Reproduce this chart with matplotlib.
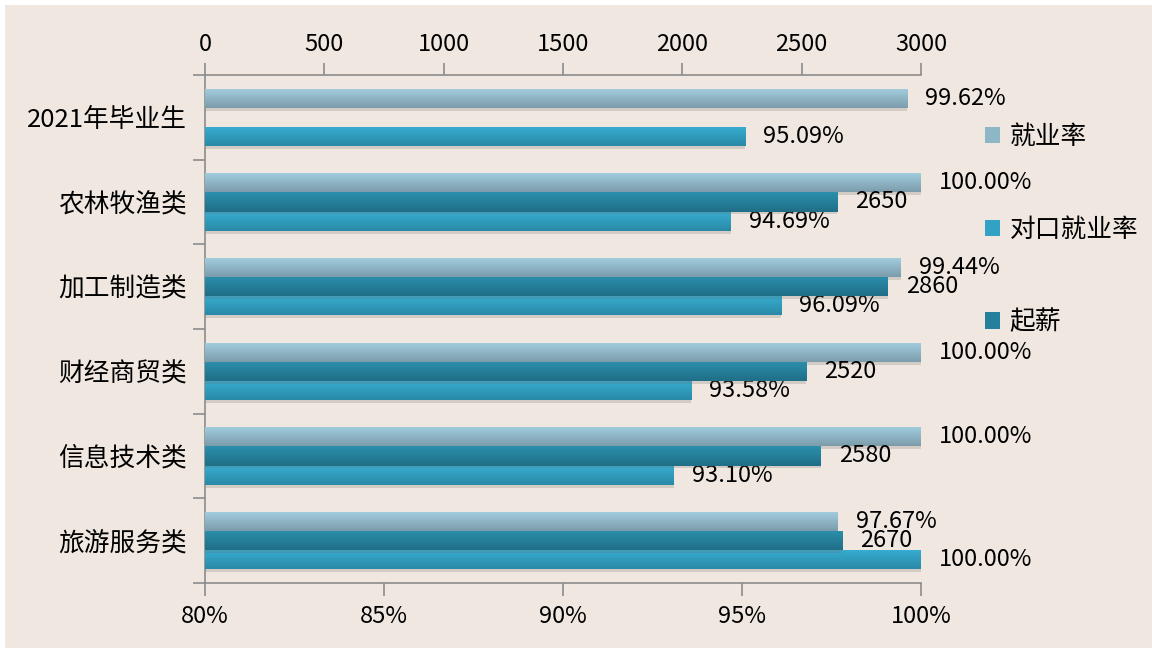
import matplotlib
matplotlib.use("Agg")

import numpy as np
from matplotlib import pyplot as plt
from matplotlib.colors import LinearSegmentedColormap
from matplotlib.patches import Patch, Rectangle

plt.rcParams["font.family"] = ["Noto Sans CJK SC", "DejaVu Sans"]

categories = ["2021年毕业生", "农林牧渔类", "加工制造类", "财经商贸类", "信息技术类", "旅游服务类"]
employment_rate = [99.62, 100.00, 99.44, 100.00, 100.00, 97.67]
matched_rate    = [95.09, 94.69, 96.09, 93.58, 93.10, 100.00]
start_salary    = [np.nan, 2650, 2860, 2520, 2580, 2670]

pct_ticks    = [80, 85, 90, 95, 100]
salary_ticks = [0, 500, 1000, 1500, 2000, 2500, 3000]

SERIES_STYLE = {
    "就业率":     {"top": "#A3CFE0", "bottom": "#7C9CAB", "legend": "#8DB6C7"},
    "对口就业率": {"top": "#37AED2", "bottom": "#2A89A6", "legend": "#31A2C6"},
    "起薪":       {"top": "#2B90AD", "bottom": "#206E87", "legend": "#267F9B"},
}

BG = "#F0E8E0"
AXIS_GRAY = "#8C8C8C"
FS_NUM = 17
FS_CJK = 18.5
BAR_H = 0.225
SHADOW = 0.035


def gradient_barh(ax, y, widths, left, style, zorder=3):
    bars = ax.barh(y, widths, left=left, height=BAR_H, color=style["bottom"],
                   linewidth=0, zorder=zorder)
    # soft shadow below each bar
    ax.barh(np.asarray(y) + SHADOW, widths, left=left, height=BAR_H, color="#6E6A66",
            alpha=0.22, linewidth=0, zorder=zorder - 1)
    cmap = LinearSegmentedColormap.from_list("g", [style["top"], style["bottom"]])
    grad = np.linspace(0, 1, 64).reshape(-1, 1)
    for bar in bars:
        x0, y0 = bar.get_x(), bar.get_y()
        w, h = bar.get_width(), bar.get_height()
        if not np.isfinite(w):
            continue
        im = ax.imshow(grad, cmap=cmap, aspect="auto", extent=[x0, x0 + w, y0 + h, y0],
                       zorder=zorder + 0.1, interpolation="bilinear")
        im.set_clip_path(bar)
    return bars


fig = plt.figure(figsize=(11.52, 6.48), dpi=100, facecolor="white")
fig.patches.append(Rectangle((5 / 1152, 0), 1, 1 - 5 / 648, transform=fig.transFigure,
                             facecolor=BG, edgecolor="none", zorder=-10))

ax = fig.add_axes([205 / 1152, 1 - 583 / 648, (921 - 205) / 1152, (583 - 75) / 648])
ax.set_facecolor("none")
ax2 = ax.twiny()
ax2.set_facecolor("none")

ypos = np.arange(len(categories))

pct_base = pct_ticks[0]
gradient_barh(ax, ypos - BAR_H, np.array(employment_rate) - pct_base, pct_base, SERIES_STYLE["就业率"])
gradient_barh(ax, ypos + BAR_H, np.array(matched_rate) - pct_base, pct_base, SERIES_STYLE["对口就业率"])
gradient_barh(ax2, ypos, np.array(start_salary), 0, SERIES_STYLE["起薪"], zorder=5)

for y, v in zip(ypos, employment_rate):
    ax.annotate(f"{v:.2f}%", (v, y - BAR_H), xytext=(13, 0), textcoords="offset points",
                ha="left", va="center", fontsize=FS_NUM, zorder=10, annotation_clip=False)
for y, v in zip(ypos, matched_rate):
    ax.annotate(f"{v:.2f}%", (v, y + BAR_H), xytext=(13, 0), textcoords="offset points",
                ha="left", va="center", fontsize=FS_NUM, zorder=10, annotation_clip=False)
for y, v in zip(ypos, start_salary):
    if np.isfinite(v):
        ax2.annotate(f"{v:.0f}", (v, y), xytext=(13, 0), textcoords="offset points",
                     ha="left", va="center", fontsize=FS_NUM, zorder=10, annotation_clip=False)

ax.set_xlim(pct_ticks[0], pct_ticks[-1])
ax2.set_xlim(salary_ticks[0], salary_ticks[-1])
ax.set_ylim(len(categories) - 0.5, -0.5)
ax2.set_ylim(len(categories) - 0.5, -0.5)

ax.set_xticks(pct_ticks)
ax.set_xticklabels([f"{t}%" for t in pct_ticks], fontsize=FS_NUM)
ax2.set_xticks(salary_ticks)
ax2.set_xticklabels([str(t) for t in salary_ticks], fontsize=FS_NUM)

ax.set_yticks(ypos)
ax.set_yticklabels(categories, fontsize=FS_CJK)
ax.set_yticks(np.arange(len(categories) + 1) - 0.5, minor=True)
ax.tick_params(axis="y", which="major", length=0, pad=13)
ax.tick_params(axis="y", which="minor", length=9, color=AXIS_GRAY, width=1.2)
ax.tick_params(axis="x", length=9, color=AXIS_GRAY, width=1.2, pad=7)
ax2.tick_params(axis="x", length=9, color=AXIS_GRAY, width=1.2, pad=5)

for a in (ax, ax2):
    a.spines[["right"]].set_visible(False)
    for s in ("left", "bottom", "top"):
        a.spines[s].set_color(AXIS_GRAY)
        a.spines[s].set_linewidth(1.2)
ax.spines["top"].set_visible(False)
ax2.spines["bottom"].set_visible(False)
ax2.spines["left"].set_visible(False)
ax2.tick_params(axis="y", left=False, labelleft=False)

handles = [Patch(facecolor=SERIES_STYLE[k]["legend"], edgecolor="none") for k in SERIES_STYLE]
fig.legend(handles, list(SERIES_STYLE.keys()), loc="upper left",
           bbox_to_anchor=(967 / 1152, 1 - 106 / 648), frameon=False, fontsize=FS_CJK,
           handlelength=0.6, handleheight=0.6, handletextpad=0.35, labelspacing=2.6,
           borderpad=0.2)

fig.savefig("out.png", dpi=100, facecolor=fig.get_facecolor())
